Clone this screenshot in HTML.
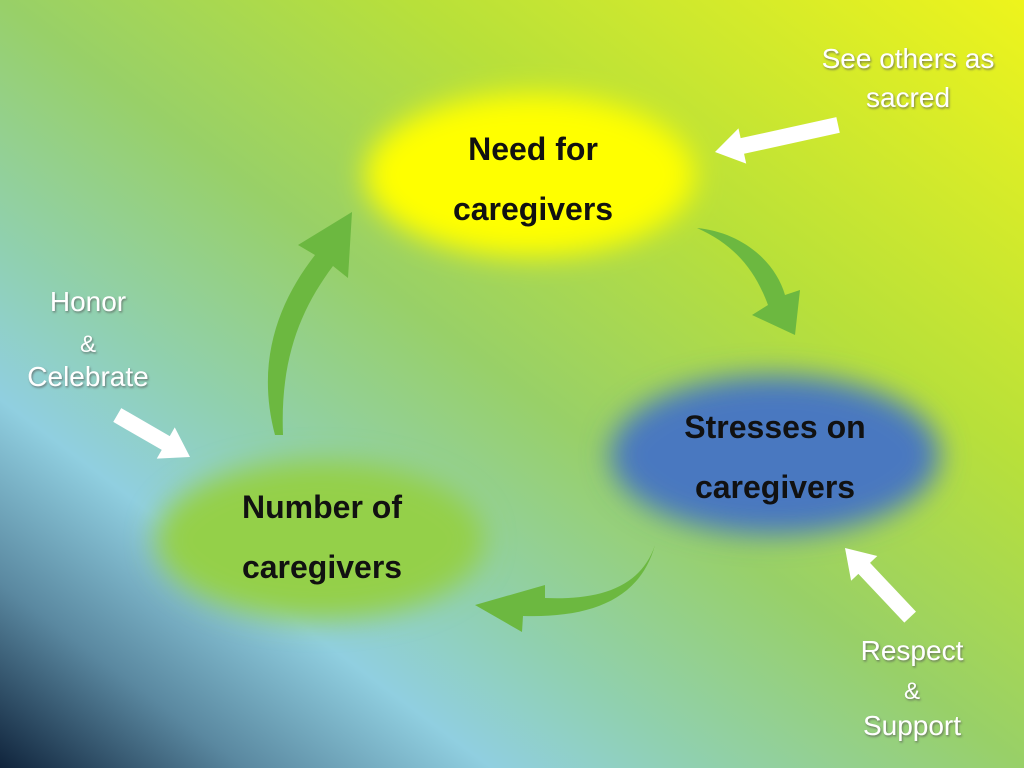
<!DOCTYPE html>
<html><head><meta charset="utf-8"><style>
html,body{margin:0;padding:0;width:1024px;height:768px;overflow:hidden}
</style></head><body>
<svg width="1024" height="768" viewBox="0 0 1024 768" xmlns="http://www.w3.org/2000/svg">
<defs>
<linearGradient id="bg" x1="1" y1="0" x2="0" y2="1">
<stop offset="0" stop-color="#eef41c"/>
<stop offset="0.3" stop-color="#b8e03a"/>
<stop offset="0.5" stop-color="#98d068"/>
<stop offset="0.66" stop-color="#90d0b0"/>
<stop offset="0.76" stop-color="#90cfe0"/>
<stop offset="0.88" stop-color="#5a88a0"/>
<stop offset="1" stop-color="#10243c"/>
</linearGradient>
<filter id="b" x="-30%" y="-30%" width="160%" height="160%"><feGaussianBlur stdDeviation="14"/></filter>
<filter id="s"><feDropShadow dx="1" dy="1.5" stdDeviation="1" flood-color="#555" flood-opacity="0.7"/></filter>
<polygon id="wa" points="0,-8 -1,-8 0,0"/>
</defs>
<rect width="1024" height="768" fill="url(#bg)"/>
<ellipse cx="530" cy="175" rx="165" ry="82" fill="#ffff00" filter="url(#b)"/>
<ellipse cx="775" cy="455" rx="165" ry="80" fill="#4a78c0" filter="url(#b)"/>
<ellipse cx="320" cy="540" rx="165" ry="80" fill="#94d048" filter="url(#b)"/>
<g fill="#6cb840">
<path d="M275 435 C 255 360, 280 300, 315 255 L 298 245 L 352 212 L 348 278 L 333 266 C 300 310, 280 360, 283 435 Z"/>
<path d="M697 228 C 740 232, 775 260, 785 295 L 800 290 L 795 335 L 752 315 L 768 305 C 755 270, 735 245, 697 228 Z"/>
<path d="M655 545 C 640 590, 595 600, 545 598 L 545 585 L 475 605 L 522 632 L 523 616 C 590 618, 640 600, 655 545 Z"/>
</g>
<g fill="#fff">
<polygon transform="translate(715,152) rotate(-12.4)" points="0,0 28,-18 28,-8 126,-8 126,8 28,8 28,18"/>
<polygon transform="translate(190,457) rotate(210)" points="0,0 28,-18 28,-8 84,-8 84,8 28,8 28,18"/>
<polygon transform="translate(845,548) rotate(46.7)" points="0,0 28,-18 28,-8 95,-8 95,8 28,8 28,18"/>
</g>
<g font-family="Liberation Sans Narrow, Liberation Sans, sans-serif" font-size="32" font-weight="bold" fill="#111" text-anchor="middle">
<text x="533" y="160">Need for</text>
<text x="533" y="220">caregivers</text>
<text x="775" y="438">Stresses on</text>
<text x="775" y="498">caregivers</text>
<text x="322" y="518">Number of</text>
<text x="322" y="578">caregivers</text>
</g>
<g font-family="Liberation Sans, sans-serif" font-size="28" fill="#fff" text-anchor="middle" filter="url(#s)">
<text x="908" y="68">See others as</text>
<text x="908" y="107">sacred</text>
<text x="88" y="311">Honor</text>
<text x="88" y="352" font-size="24">&amp;</text>
<text x="88" y="386">Celebrate</text>
<text x="912" y="660">Respect</text>
<text x="912" y="699" font-size="24">&amp;</text>
<text x="912" y="735">Support</text>
</g>
</svg>
</body></html>
